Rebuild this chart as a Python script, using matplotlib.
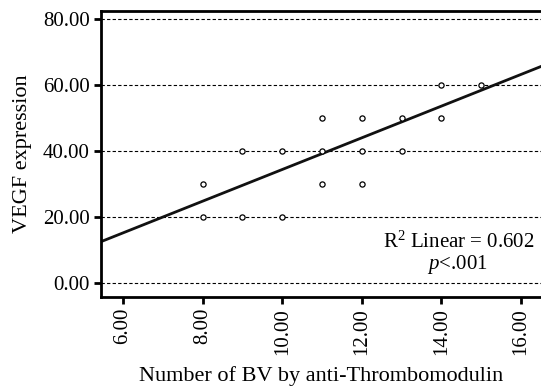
import numpy as np
import matplotlib
matplotlib.use("Agg")
import matplotlib.pyplot as plt

plt.rcParams['font.family'] = ['Liberation Serif', 'DejaVu Serif']
plt.rcParams['mathtext.fontset'] = 'custom'
plt.rcParams['mathtext.rm'] = 'Liberation Serif'
plt.rcParams['mathtext.it'] = 'Liberation Serif:italic'

# data
bv_count = [8, 8, 9, 9, 10, 10, 11, 11, 11, 12, 12, 12, 13, 13, 14, 14, 15]
vegf = [30, 20, 40, 20, 40, 20, 50, 40, 30, 50, 40, 30, 50, 40, 60, 50, 60]
fit_slope = 4.8
fit_intercept = -13.6
x_ticks = [6, 8, 10, 12, 14, 16]
y_ticks = [0, 20, 40, 60, 80]

fig = plt.figure(figsize=(5.41, 3.91), dpi=100)
ax = fig.add_axes([0.1867, 0.2404, 0.8133, 0.7315])

ax.set_xlim(5.45, 16.5)
ax.set_ylim(-4.2, 82.4)

for yv in y_ticks:
    ax.axhline(yv, color='black', lw=0.8, ls=(0, (3, 2)), zorder=1)

xs = np.array([5.45, 16.5])
ax.plot(xs, fit_intercept + fit_slope * xs, color='#111111', lw=2.0, zorder=2)

ax.scatter(bv_count, vegf, s=14, facecolors='white', edgecolors='black',
           linewidths=0.9, zorder=3)

ax.set_xticks(x_ticks)
ax.set_xticklabels([f'{v:.2f}' for v in x_ticks], rotation=90)
ax.set_yticks(y_ticks)
ax.set_yticklabels([f'{v:.2f}' for v in y_ticks])
ax.tick_params(direction='out', length=5, width=2, labelsize=15, pad=3)

for side in ['left', 'bottom', 'top']:
    ax.spines[side].set_linewidth(2)
ax.spines['right'].set_visible(False)

ax.set_xlabel('Number of BV by anti-Thrombomodulin', fontsize=16, labelpad=8)
ax.set_ylabel('VEGF expression', fontsize=16, labelpad=8)

ax.text(0.985, 0.192, r'R$^{2}$ Linear = 0.602', transform=ax.transAxes,
        ha='right', va='center', fontsize=15)
ax.text(0.81, 0.114, r'$\it{p}$<.001', transform=ax.transAxes,
        ha='center', va='center', fontsize=15)

fig.savefig('out.png', dpi=100)
